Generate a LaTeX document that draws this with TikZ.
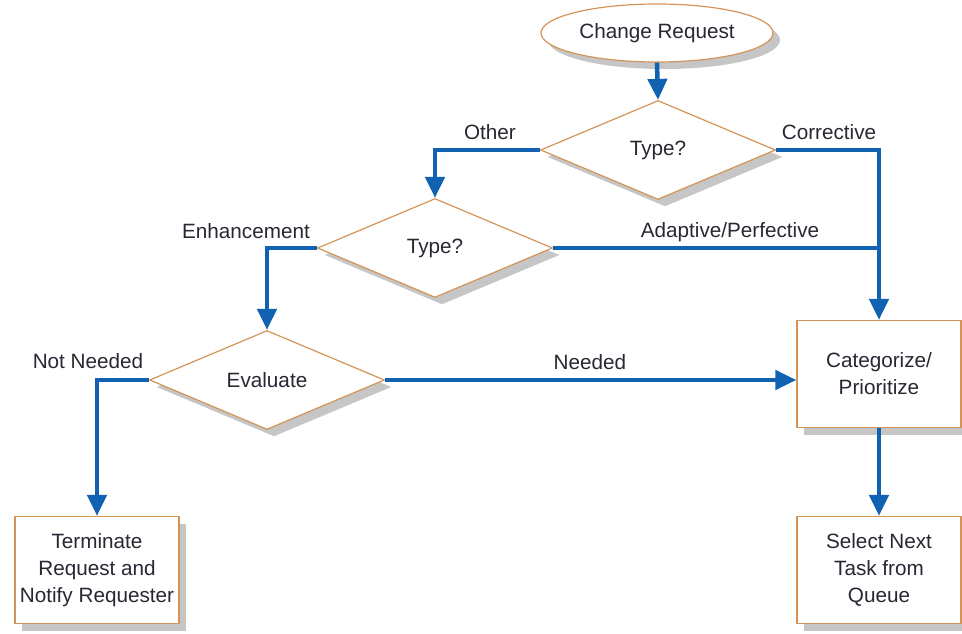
\documentclass[tikz,border=0pt]{standalone}
\usepackage{fontspec}
\setmainfont{Liberation Sans}
\usetikzlibrary{shapes.geometric,arrows.meta,shadows}
\definecolor{flowblue}{RGB}{18,98,178}
\definecolor{boxline}{RGB}{212,148,88}
\definecolor{txt}{RGB}{40,40,52}
\begin{document}
\begin{tikzpicture}[x=1pt,y=-1pt,
  every node/.style={font=\fontsize{20.7}{27}\selectfont, text=txt},
  shd/.style={drop shadow={shadow xshift=7pt,shadow yshift=-7pt,fill=gray!45,opacity=1}},
  term/.style={ellipse,draw=boxline,line width=1.2pt,fill=white,minimum width=232pt,minimum height=58pt,inner sep=0pt,shd},
  decide/.style={diamond,draw=boxline,line width=1.2pt,fill=white,minimum width=235pt,minimum height=99pt,inner sep=0pt,shd},
  proc/.style={rectangle,draw=boxline,line width=1.2pt,fill=white,minimum width=164pt,minimum height=107pt,inner sep=2pt,align=center,shd},
  flow/.style={draw=flowblue,line width=4.5pt,-{Triangle[width=19pt,length=21pt]}},
  flowline/.style={draw=flowblue,line width=4.5pt},
  lbl/.style={inner sep=0pt}
]
\useasboundingbox (0,0) rectangle (962,634);

\node[term] (cr) at (657,33) {Change Request};
\node[decide] (t1) at (658,150) {Type?};
\node[decide] (t2) at (435,248) {Type?};
\node[decide] (ev) at (267,380) {Evaluate};
\node[proc] (cat) at (879,374) {Categorize/\\Prioritize};
\node[proc] (sel) at (879,570) {Select Next\\Task from\\Queue};
\node[proc] (tr) at (97,570) {Terminate\\Request and\\Notify Requester};

\coordinate (join) at (t2.east -| cat.north);

\draw[flow] (cr.south) -- (t1.north);
\draw[flow] (t1.west) -| (t2.north);
\draw[flow] (t1.east) -| (cat.north);
\draw[flowline] (t2.east) -- (join);
\draw[flow] (t2.west) -| (ev.north);
\draw[flow] (ev.east) -- (ev.east -| cat.west);
\draw[flow] (ev.west) -| (tr.north);
\draw[flow] (cat.south) -- (sel.north);

\node[lbl] (lo) at (490,132) {Other};
\node[lbl] (lc) at (829,132) {Corrective};
\node[lbl] (la) at (730,232) {Adaptive/Perfective};
\node[lbl] (le) at (246,231) {Enhancement};
\node[lbl] (ln) at (590,362) {Needed};
\node[lbl] (lnn) at (88,361) {Not Needed};
\end{tikzpicture}
\end{document}
